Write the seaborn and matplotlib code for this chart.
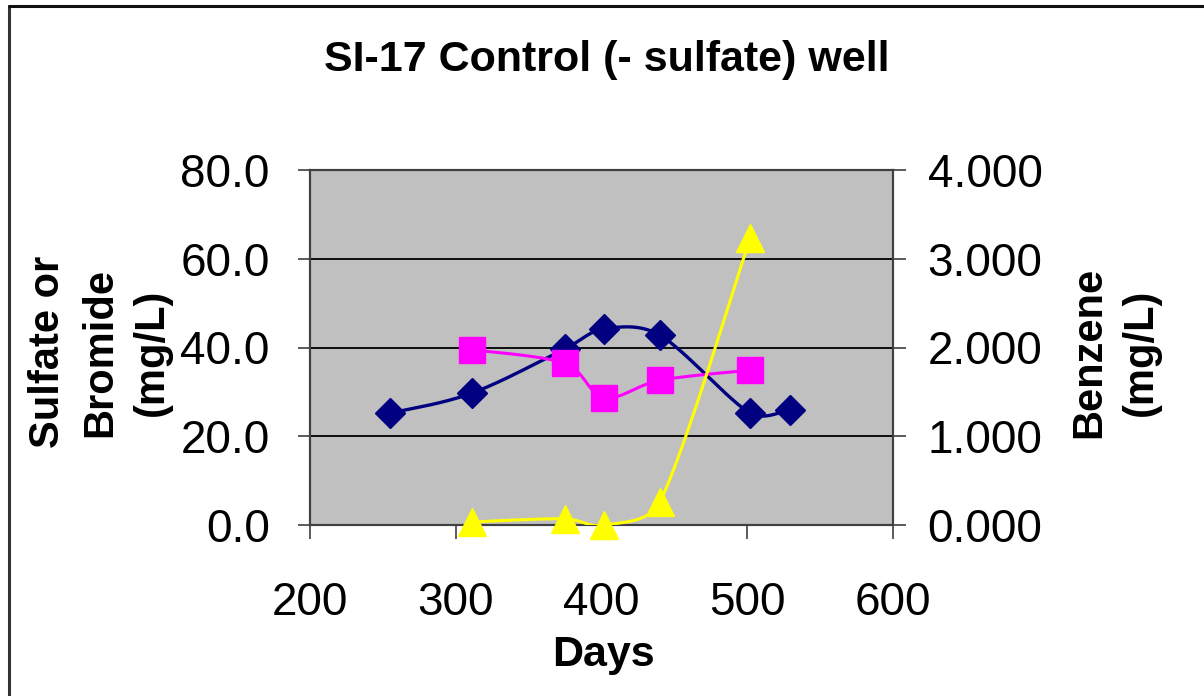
import numpy as np
import pandas as pd
import matplotlib
matplotlib.use("Agg")
import matplotlib.pyplot as plt
import seaborn as sns
from matplotlib.lines import Line2D

# ---- data ----
sulfate_days = [255, 311, 375, 402, 440, 502, 529]
sulfate_vals = [25.2, 29.7, 39.7, 44.2, 42.8, 25.2, 25.9]
bromide_days = [311, 375, 402, 440, 502]
bromide_vals = [39.5, 36.4, 28.7, 32.6, 34.9]
benzene_days = [311, 375, 402, 440, 502]
benzene_vals = [0.034, 0.07, 0.0, 0.26, 3.23]
x_ticks = [200, 300, 400, 500, 600]
left_ticks = [0, 20, 40, 60, 80]
right_ticks = [0, 1, 2, 3, 4]
title = "SI-17 Control (- sulfate) well"

XLIM = (200, 600)


def smooth(xs, ys, ymax, n=30):
    """Bezier smoothing similar to a spreadsheet 'smoothed line' (drawing style only)."""
    sx = 583.0 / (XLIM[1] - XLIM[0])
    sy = 355.0 / ymax
    P = np.column_stack([(np.asarray(xs, float) - XLIM[0]) * sx, np.asarray(ys, float) * sy])
    pts = np.vstack([P[0], P, P[-1]])
    out = []
    for i in range(1, len(pts) - 2):
        p0, p1, p2, p3 = pts[i - 1], pts[i], pts[i + 1], pts[i + 2]
        L = np.hypot(*(p2 - p1))
        d1 = (p2 - p0) / 6.0
        d2 = (p3 - p1) / 6.0
        for d in (d1, d2):
            m = np.hypot(*d)
            if m > 0.4 * L:
                d *= 0.4 * L / m
        c1, c2 = p1 + d1, p2 - d2
        t = np.linspace(0, 1, n, endpoint=(i == len(pts) - 3))[:, None]
        c = ((1 - t) ** 3) * p1 + 3 * ((1 - t) ** 2) * t * c1 + 3 * (1 - t) * t ** 2 * c2 + t ** 3 * p2
        out.append(c)
    c = np.vstack(out)
    return pd.DataFrame({"x": c[:, 0] / sx + XLIM[0], "y": c[:, 1] / sy})


sns.set_theme(style="white")
plt.rcParams["font.family"] = ["Liberation Sans", "DejaVu Sans"]
plt.rcParams["text.color"] = "black"

fig = plt.figure(figsize=(12.04, 6.96), dpi=100)
ax = fig.add_axes([310 / 1204, 1 - 525 / 696, (893 - 310) / 1204, (525 - 170) / 696])
ax.set_facecolor("#C0C0C0")
ax2 = ax.twinx()

navy, magenta, yellow = "#000080", "#FF00FF", "#FFFF00"

s_curve = smooth(sulfate_days, sulfate_vals, 80)
b_curve = smooth(bromide_days, bromide_vals, 80)
z_curve = smooth(benzene_days, benzene_vals, 4)

sns.lineplot(data=s_curve, x="x", y="y", sort=False, ax=ax, color=navy, lw=2.4, zorder=3)
sns.lineplot(data=b_curve, x="x", y="y", sort=False, ax=ax, color=magenta, lw=2.2, zorder=3)
ax.plot(sulfate_days, sulfate_vals, ls="none", marker="D", ms=15.5, color=navy, mec=navy, zorder=4)
ax.plot(bromide_days, bromide_vals, ls="none", marker="s", ms=18.5, color=magenta, mec=magenta, zorder=4)

sns.lineplot(data=z_curve, x="x", y="y", sort=False, ax=ax2, color=yellow, lw=2.2, zorder=3)
ax2.plot(benzene_days, benzene_vals, ls="none", marker="^", ms=20, color=yellow, mec=yellow, zorder=4,
         clip_on=False)

ax.set_xlim(*XLIM)
ax.set_ylim(0, 80)
ax2.set_ylim(0, 4)
ax.set_xticks(x_ticks)
ax.set_xticklabels([str(v) for v in x_ticks])
ax.set_yticks(left_ticks)
ax.set_yticklabels([f"{v:.1f}" for v in left_ticks])
ax2.set_yticks(right_ticks)
ax2.set_yticklabels([f"{v:.3f}" for v in right_ticks])

ax.grid(False)
ax2.grid(False)
for v in left_ticks[1:-1]:
    ax.axhline(v, color="black", lw=1.3, zorder=1)

for a in (ax, ax2):
    for sp in a.spines.values():
        sp.set_color("#404040")
        sp.set_linewidth(1.5)
    a.set_xlabel("")
    a.set_ylabel("")

ax.tick_params(axis="y", direction="out", length=9, width=1.2, color="#404040",
               labelsize=33, labelcolor="black", pad=20, left=True)
ax.tick_params(axis="x", direction="out", length=10, width=1.2, color="#404040",
               labelsize=33, labelcolor="black", pad=30, bottom=True)
ax2.tick_params(axis="y", direction="out", length=9, width=1.2, color="#404040",
                labelsize=33, labelcolor="black", pad=16, right=True)

fig.text(607 / 1204, 1 - 60 / 696, title, ha="center", va="center",
         fontsize=31, fontweight="bold")
fig.text(603 / 1204, 1 - 655 / 696, "Days", ha="center", va="center",
         fontsize=31, fontweight="bold")
fig.text(100 / 1204, 1 - 352 / 696, "Sulfate or\nBromide\n(mg/L)", ha="center", va="center",
         rotation=90, fontsize=30, fontweight="bold", linespacing=1.38, multialignment="center")
fig.text(1115 / 1204, 1 - 352 / 696, "Benzene\n(mg/L)", ha="center", va="center",
         rotation=90, fontsize=30, fontweight="bold", linespacing=1.38, multialignment="center")

# chart border (left and top edges visible)
fig.add_artist(Line2D([8.5 / 1204, 8.5 / 1204], [0, 1 - 6 / 696], color="#333333", lw=2.2,
                      transform=fig.transFigure))
fig.add_artist(Line2D([8.5 / 1204, 1], [1 - 6 / 696, 1 - 6 / 696], color="#111111", lw=2.2,
                      transform=fig.transFigure))

fig.savefig("out.png", dpi=100, facecolor="white")
